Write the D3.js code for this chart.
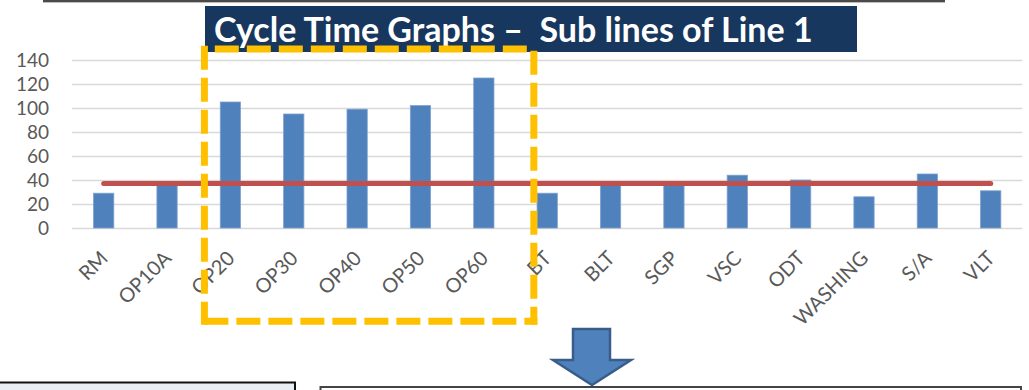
<!DOCTYPE html>
<html>
<head>
<meta charset="utf-8">
<script src="https://cdn.jsdelivr.net/npm/d3@7"></script>
<style>
  html, body { margin: 0; padding: 0; background: #ffffff; }
  svg { display: block; }
  text { font-family: Lato, "Open Sans", sans-serif; }
</style>
</head>
<body>
<svg id="chart" width="1029" height="390"></svg>
<script>
// Cycle time per station (seconds) for the sub lines of Line 1
const stations = ["RM", "OP10A", "OP20", "OP30", "OP40", "OP50", "OP60", "BT", "BLT", "SGP", "VSC", "ODT", "WASHING", "S/A", "VLT"];
const cycleTimes = [29, 36, 105, 95, 99, 102, 125, 29, 37, 37, 44, 40, 26, 45, 31];
const taktTime = 37;
const yTicks = [0, 20, 40, 60, 80, 100, 120, 140];
const titleText = "Cycle Time Graphs \u2013  Sub lines of Line 1";
// stations grouped inside the highlighted box
const highlighted = ["OP20", "OP30", "OP40", "OP50", "OP60"];

const svg = d3.select("#chart");
const plot = { left: 72, right: 1022.4, top: 60, bottom: 228 };

const x = d3.scaleBand()
  .domain(stations)
  .range([plot.left, plot.right])
  .paddingInner(0.68)
  .paddingOuter(0.34);

const y = d3.scaleLinear()
  .domain([0, 140])
  .range([plot.bottom, plot.top]);

// slide rule above the chart
svg.append("rect")
  .attr("x", 43).attr("y", 0).attr("width", 902).attr("height", 2)
  .attr("fill", "#4a4a4a");
svg.append("rect")
  .attr("x", 43).attr("y", 2).attr("width", 902).attr("height", 1)
  .attr("fill", "#bdbdbd");

// title banner
svg.append("rect")
  .attr("x", 205).attr("y", 6).attr("width", 652).attr("height", 46)
  .attr("fill", "#17375E");
svg.append("text")
  .attr("x", 214).attr("y", 42)
  .attr("fill", "#ffffff")
  .attr("font-size", 34)
  .attr("font-weight", 700)
  .style("white-space", "pre")
  .text(titleText);

// gridlines + y labels
const yAxis = d3.axisLeft(y)
  .tickValues(yTicks)
  .tickSize(-(plot.right - plot.left))
  .tickPadding(23);

const gy = svg.append("g")
  .attr("transform", `translate(${plot.left},0)`)
  .call(yAxis);
gy.select(".domain").remove();
gy.selectAll(".tick line")
  .attr("stroke", "#D9D9D9")
  .attr("stroke-width", 1.6);
gy.selectAll(".tick text")
  .attr("fill", "#595959")
  .attr("font-size", 19)
  .attr("font-family", "Lato, sans-serif");

// bars
svg.append("g")
  .selectAll("rect")
  .data(stations.map((s, i) => ({ s, v: cycleTimes[i] })))
  .join("rect")
  .attr("x", d => x(d.s))
  .attr("y", d => y(d.v))
  .attr("width", x.bandwidth())
  .attr("height", d => y(0) - y(d.v))
  .attr("fill", "#4F81BD")
  .attr("stroke", "#7FA1CD")
  .attr("stroke-width", 0.8);

// takt time line across all stations
const first = stations[0], last = stations[stations.length - 1];
svg.append("line")
  .attr("x1", x(first) + x.bandwidth() / 2)
  .attr("x2", x(last) + x.bandwidth() / 2)
  .attr("y1", y(taktTime))
  .attr("y2", y(taktTime))
  .attr("stroke", "#C0504D")
  .attr("stroke-width", 5)
  .attr("stroke-linecap", "round");

// x labels, rotated
const xAxis = d3.axisBottom(x).tickSize(0).tickPadding(0);
const gx = svg.append("g")
  .attr("transform", `translate(0,${plot.bottom})`)
  .call(xAxis);
gx.select(".domain").remove();
gx.selectAll(".tick text")
  .attr("fill", "#595959")
  .attr("font-size", 20)
  .attr("font-family", "Lato, sans-serif")
  .attr("text-anchor", "end")
  .attr("dy", 0)
  .attr("y", 0)
  .attr("transform", "translate(5.5,31.5) rotate(-45)");

// highlight box around the OP20..OP60 group (dashed, drawn edge by edge)
const hx0 = x(highlighted[0]) + x.bandwidth() / 2 - 26;
const hx1 = x(highlighted[highlighted.length - 1]) + x.bandwidth() / 2 + 50;
const hy0 = 49, hy1 = 321.3, hw = 7;
const dashed = svg.append("g")
  .attr("stroke", "#FFC000")
  .attr("stroke-width", hw)
  .attr("stroke-dasharray", "24 8")
  .attr("fill", "none");
dashed.append("line") // left
  .attr("x1", hx0).attr("y1", hy0 - hw / 2 + 0.2)
  .attr("x2", hx0).attr("y2", hy1 + hw / 2);
dashed.append("line") // bottom
  .attr("x1", hx0).attr("y1", hy1)
  .attr("x2", hx1 + hw / 2).attr("y2", hy1);
dashed.append("line") // right
  .attr("x1", hx1).attr("y1", hy0 + 1.7)
  .attr("x2", hx1).attr("y2", hy1 + hw / 2);
dashed.append("line") // top
  .attr("x1", hx0 + 10.4).attr("y1", hy0)
  .attr("x2", hx1 - 6).attr("y2", hy0);

// down arrow
svg.append("polygon")
  .attr("points", "573,329 610,329 610,360 631,360 592,385 553,360 573,360")
  .attr("fill", "#4F81BD")
  .attr("stroke", "#385D8A")
  .attr("stroke-width", 2.5)
  .attr("stroke-linejoin", "miter");

// panels below
svg.append("rect")
  .attr("x", -4).attr("y", 382.5).attr("width", 299).attr("height", 20)
  .attr("fill", "#E9EEF5")
  .attr("stroke", "#111111")
  .attr("stroke-width", 2);
svg.append("rect")
  .attr("x", 320.5).attr("y", 387).attr("width", 700.5).attr("height", 20)
  .attr("fill", "#ffffff")
  .attr("stroke", "#444444")
  .attr("stroke-width", 2);
</script>
</body>
</html>
